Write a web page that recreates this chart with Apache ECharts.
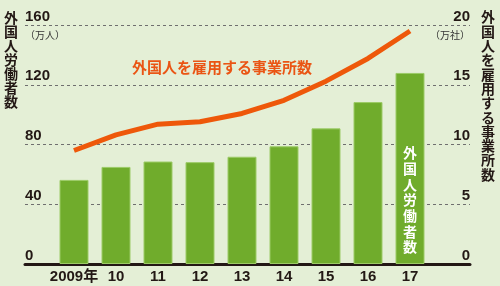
<!DOCTYPE html>
<html><head><meta charset="utf-8">
<script src="https://cdn.jsdelivr.net/npm/echarts@6/dist/echarts.min.js"></script>
<style>html,body{margin:0;padding:0;background:#e4efd6;}#c{width:500px;height:286px;}</style>
</head><body><div id="c"></div>
<script>
var categories = ['2009年','10','11','12','13','14','15','16','17'];
var workers = [56.3, 65.0, 68.6, 68.2, 71.8, 78.8, 90.8, 108.4, 127.9];      // 万人 (left axis)
var establishments = [9.5, 10.8, 11.7, 11.9, 12.6, 13.7, 15.3, 17.2, 19.5]; // 万社 (right axis)
var leftTicks = [0, 40, 80, 120, 160];
var rightTicks = [0, 5, 10, 15, 20];

var NUM = '"Liberation Sans Narrow","Liberation Sans","Noto Sans CJK JP",sans-serif';
var CJK = '"Noto Sans CJK JP",sans-serif';
var INK = '#231815';

function vert(s){ return s.split('').join('\n'); }

var barData = workers.map(function(v, i){
  if (i === workers.length - 1) {
    return {value: v, label: {show: true, position: 'insideBottom', distance: 9,
      formatter: vert('外国人労働者数'), color: '#fff', fontFamily: CJK, fontWeight: 'bold',
      fontSize: 14, lineHeight: 15.7}};
  }
  return v;
});

var chart = echarts.init(document.getElementById('c'), null, {renderer: 'canvas'});
chart.setOption({
  backgroundColor: '#e4efd6',
  animation: false,
  grid: [
    {left: 25, right: 30, top: 25, bottom: 22},
    {left: 53, right: 69, top: 25, bottom: 22}
  ],
  xAxis: [
    {gridIndex: 0, type: 'value', min: 0, max: 1, axisLabel: {show: false}, axisTick: {show: false},
     splitLine: {show: false}, axisLine: {show: true, lineStyle: {color: INK, width: 3}}},
    {gridIndex: 1, type: 'category', data: categories, axisLine: {show: false}, axisTick: {show: false},
     axisLabel: {interval: 0, margin: 5, color: INK, fontFamily: NUM, fontWeight: 'bold', fontSize: 15}}
  ],
  yAxis: [
    {gridIndex: 0, type: 'value', position: 'left', min: leftTicks[0], max: leftTicks[leftTicks.length-1], interval: 40,
     axisLine: {show: false}, axisTick: {show: false},
     axisLabel: {inside: true, margin: 0, align: 'left', verticalAlign: 'bottom', padding: [0,0,1,0],
       color: INK, fontFamily: NUM, fontWeight: 'bold', fontSize: 15},
     splitLine: {show: true, lineStyle: {color: '#6f6f6f', width: 1, type: [3, 3]}}},
    {gridIndex: 0, type: 'value', position: 'right', min: rightTicks[0], max: rightTicks[rightTicks.length-1], interval: 5,
     axisLine: {show: false}, axisTick: {show: false}, splitLine: {show: false},
     axisLabel: {inside: true, margin: 0, align: 'right', verticalAlign: 'bottom', padding: [0,0,1,0],
       color: INK, fontFamily: NUM, fontWeight: 'bold', fontSize: 15}},
    {gridIndex: 1, type: 'value', min: 0, max: 160, show: false},
    {gridIndex: 1, type: 'value', min: 0, max: 20, show: false}
  ],
  series: [
    {type: 'bar', xAxisIndex: 1, yAxisIndex: 2, data: barData, barWidth: 29,
     itemStyle: {color: '#70ac2c', borderColor: '#9ccb66', borderWidth: 1}},
    {type: 'line', xAxisIndex: 1, yAxisIndex: 3, data: establishments, symbol: 'none', z: 5,
     lineStyle: {color: '#ee580a', width: 5, cap: 'butt', join: 'round'}}
  ],
  graphic: [
    {type: 'text', left: 4, top: 11, style: {text: vert('外国人労働者数'), fill: INK, font: 'bold 14px ' + CJK, lineHeight: 14}},
    {type: 'text', left: 481, top: 10, style: {text: vert('外国人を雇用する事業所数'), fill: INK, font: 'bold 14px ' + CJK, lineHeight: 14.3}},
    {type: 'text', left: 25, top: 30, style: {text: '（万人）', fill: '#333', font: '10px ' + CJK}},
    {type: 'text', right: 30, top: 30, style: {text: '（万社）', fill: '#333', font: '10px ' + CJK}},
    {type: 'text', left: 132, top: 60, style: {text: '外国人を雇用する事業所数', fill: '#ea5514', font: 'bold 15px ' + CJK}}
  ]
});
</script></body></html>
